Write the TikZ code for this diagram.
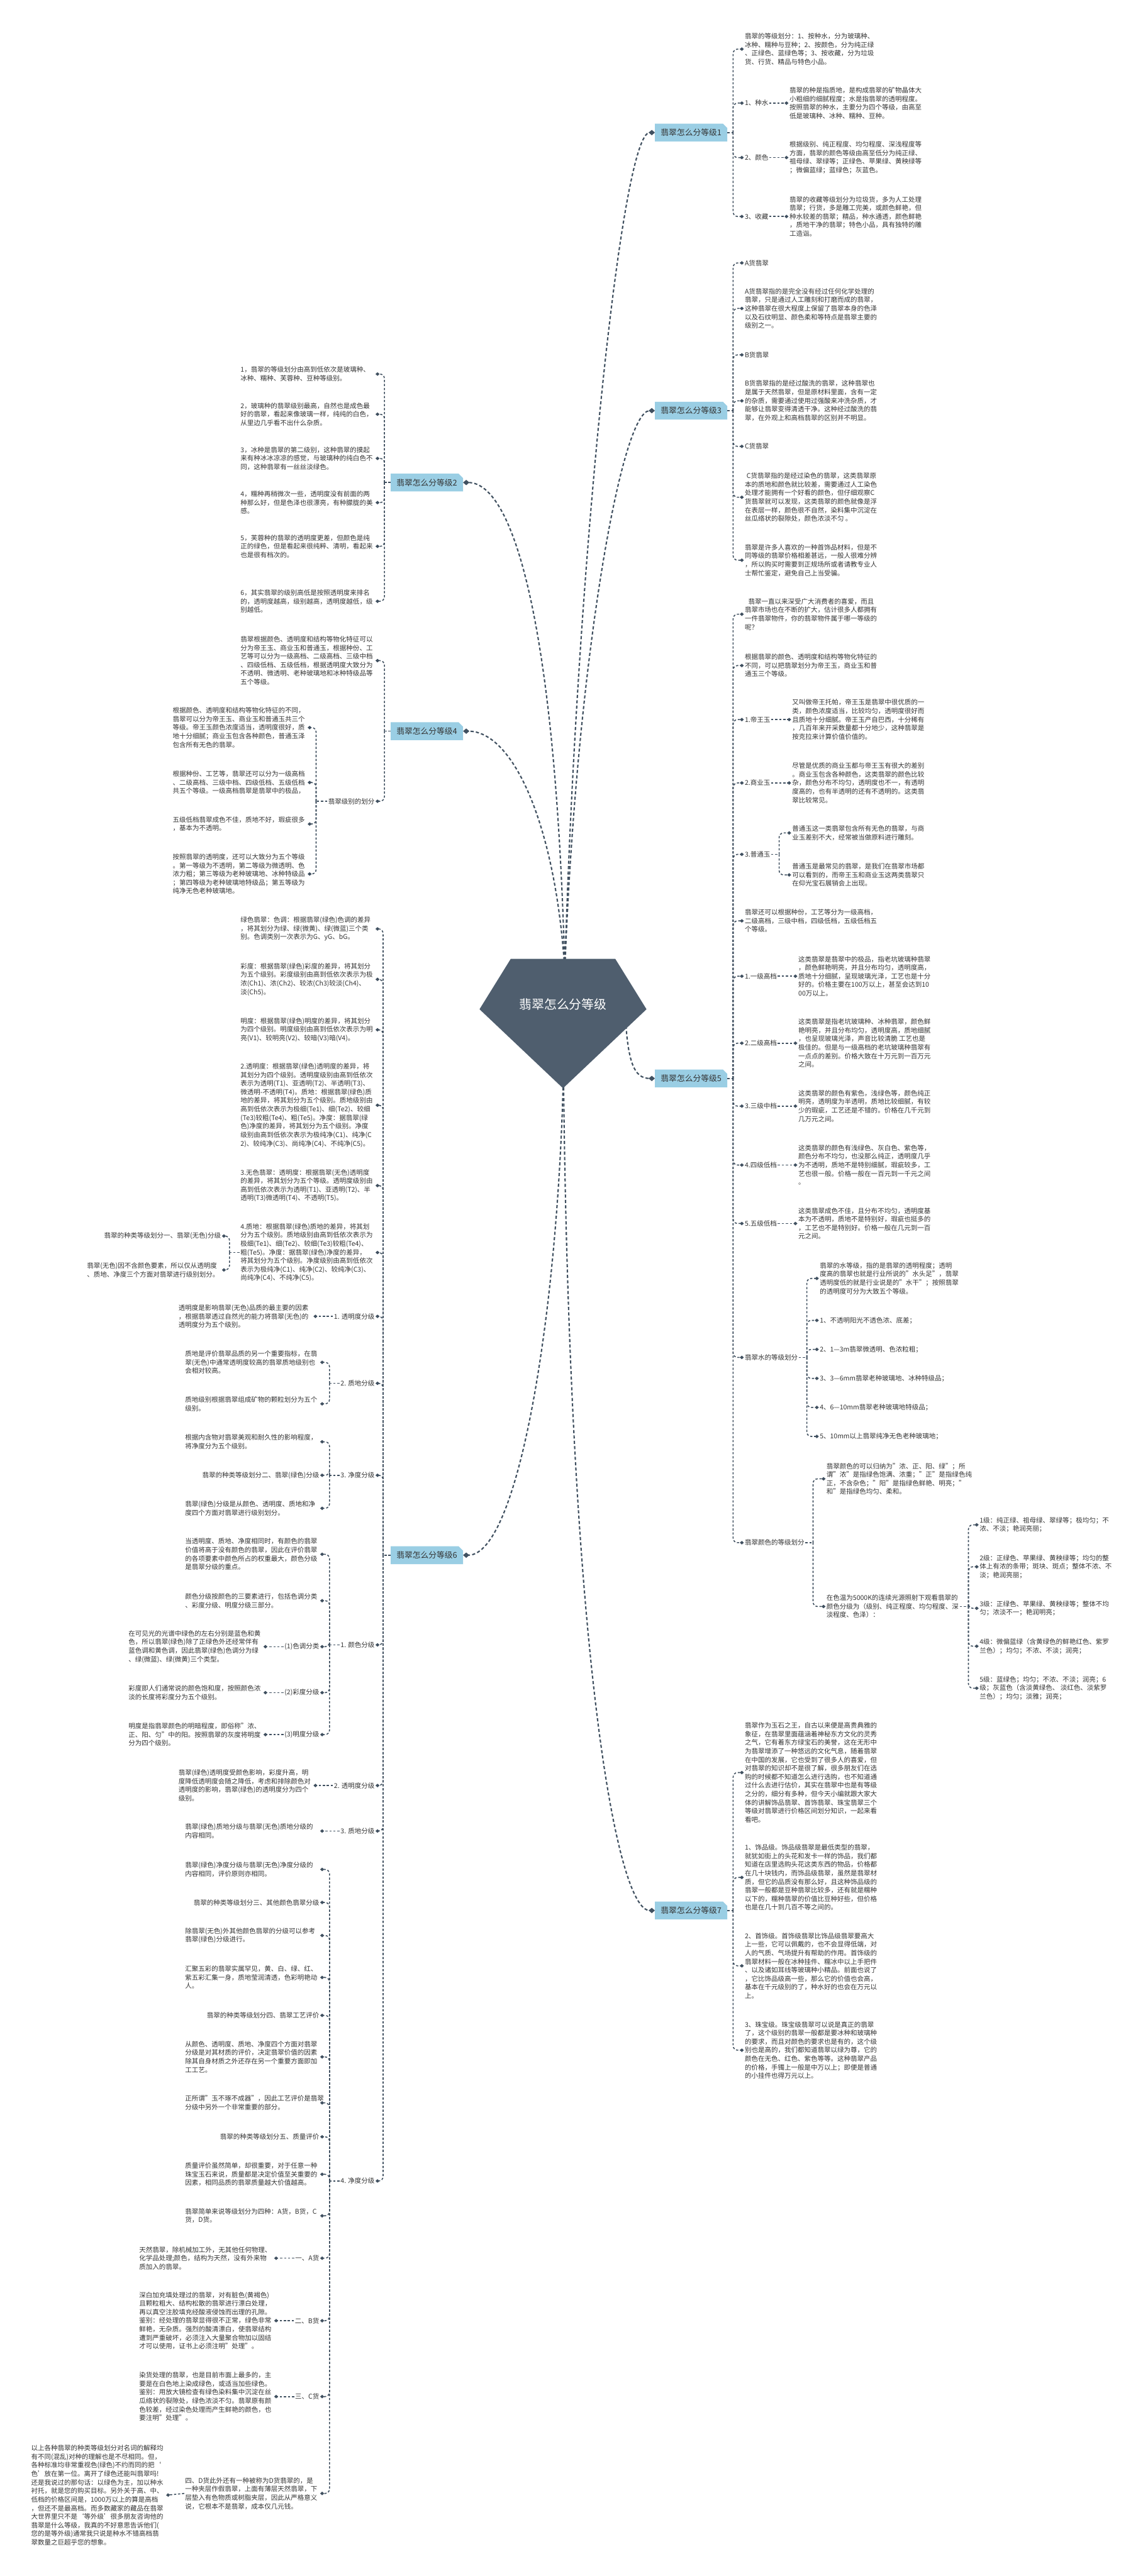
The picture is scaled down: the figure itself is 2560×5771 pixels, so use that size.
\documentclass[tikz,border=0pt]{standalone}
\usepackage{fontspec}
\setmainfont{Noto Sans CJK SC}
\usetikzlibrary{arrows.meta,shapes.misc}
\definecolor{rootcol}{RGB}{79,94,110}
\definecolor{labcol}{RGB}{154,206,228}
\definecolor{linecol}{RGB}{64,80,96}
\definecolor{txtcol}{RGB}{51,51,51}

\begin{document}
\begin{tikzpicture}[x=1pt, y=-1pt,
  leafr/.style={anchor=west, align=left, inner sep=2pt, text=txtcol, font=\fontsize{14.8}{19.2}\selectfont},
  leafl/.style={anchor=east, align=left, inner sep=2pt, text width=300pt, text=txtcol, font=\fontsize{14.8}{19.2}\selectfont},
  tagl/.style={anchor=east, align=right, inner sep=2pt, text=txtcol, font=\fontsize{14.8}{19.2}\selectfont},
  branch/.style={chamfered rectangle, chamfered rectangle corners=north east, chamfered rectangle xsep=5pt, chamfered rectangle ysep=5pt, fill=labcol, minimum width=161pt, minimum height=40pt, inner xsep=8pt, text=txtcol, font=\fontsize{18}{22}\selectfont},
  root/.style={text=white, font=\fontsize{28}{32}\selectfont},
  link/.style={draw=linecol, line width=2.2pt, dash pattern=on 5pt off 4pt, rounded corners=10pt, -{Diamond[length=9pt,width=8pt]}},
  stub/.style={draw=linecol, line width=2.2pt, dash pattern=on 5pt off 4pt},
  main/.style={draw=linecol, line width=3pt, dash pattern=on 7pt off 5pt, -{Diamond[length=14pt,width=12pt]}}]

\useasboundingbox [fill=white] (0,0) rectangle (2560,5771);

% main labels
\node (L1) at (1548,297) [branch] {翡翠怎么分等级1};
\node (L3) at (1548,920) [branch] {翡翠怎么分等级3};
\node (L5) at (1548,2416) [branch] {翡翠怎么分等级5};
\node (L7) at (1548,4280) [branch] {翡翠怎么分等级7};
\node (L2) at (956,1081) [branch] {翡翠怎么分等级2};
\node (L4) at (956,1638) [branch] {翡翠怎么分等级4};
\node (L6) at (956,3484) [branch] {翡翠怎么分等级6};

\coordinate (t1) at (1642,297);
\coordinate (t3) at (1642,920);
\coordinate (t5) at (1642,2416);
\coordinate (t7) at (1642,4280);
\coordinate (t2) at (861,1081);
\coordinate (t4) at (861,1638);
\coordinate (t6) at (858,3484);

% branch 1
\node (b1a) at (1666,110) [leafr] {翡翠的等级划分：1、按种水，分为玻璃种、\\冰种、糯种与豆种；2、按颜色，分为纯正绿\\、正绿色、蓝绿色等；3、按收藏，分为垃圾\\货、行货、精品与特色小品。};
\node (b1b) at (1666,231) [leafr] {1、种水};
\node (b1b1) at (1766,231) [leafr] {翡翠的种是指质地，是构成翡翠的矿物晶体大\\小粗细的细腻程度；水是指翡翠的透明程度。\\按照翡翠的种水，主要分为四个等级，由高至\\低是玻璃种、冰种、糯种、豆种。};
\node (b1c) at (1666,353) [leafr] {2、颜色};
\node (b1c1) at (1766,353) [leafr] {根据级别、纯正程度、均匀程度、深浅程度等\\方面，翡翠的颜色等级由高至低分为纯正绿、\\祖母绿、翠绿等；正绿色、苹果绿、黄秧绿等\\；微偏蓝绿；蓝绿色；灰蓝色。};
\node (b1d) at (1666,485) [leafr] {3、收藏};
\node (b1d1) at (1766,485) [leafr] {翡翠的收藏等级划分为垃圾货，多为人工处理\\翡翠；行货，多是雕工完美，或颜色鲜艳，但\\种水较差的翡翠；精品，种水通透，颜色鲜艳\\，质地干净的翡翠；特色小品，具有独特的雕\\工造诣。};

% branch 3
\node (b3a) at (1666,589) [leafr] {A货翡翠};
\node (b3b) at (1666,691) [leafr] {A货翡翠指的是完全没有经过任何化学处理的\\翡翠，只是通过人工雕刻和打磨而成的翡翠，\\这种翡翠在很大程度上保留了翡翠本身的色泽\\以及石纹明显、颜色柔和等特点是翡翠主要的\\级别之一。};
\node (b3c) at (1666,795) [leafr] {B货翡翠};
\node (b3d) at (1666,898) [leafr] {B货翡翠指的是经过酸洗的翡翠，这种翡翠也\\是属于天然翡翠，但是原材料里面，含有一定\\的杂质，需要通过使用过强酸来冲洗杂质，才\\能够让翡翠变得清透干净。这种经过酸洗的翡\\翠，在外观上和高档翡翠的区别并不明显。};
\node (b3e) at (1666,1000) [leafr] {C货翡翠};
\node (b3f) at (1666,1114) [leafr] {\hspace*{4pt}C货翡翠指的是经过染色的翡翠，这类翡翠原\\本的质地和颜色就比较差，需要通过人工染色\\处理才能拥有一个好看的颜色，但仔细观察C\\货翡翠就可以发现，这类翡翠的颜色就像是浮\\在表层一样，颜色很不自然，染料集中沉淀在\\丝瓜络状的裂隙处，颜色浓淡不匀 。};
\node (b3g) at (1666,1255) [leafr] {翡翠是许多人喜欢的一种首饰品材料，但是不\\同等级的翡翠价格相差甚远，一般人很难分辨\\，所以购买时需要到正规场所或者请教专业人\\士帮忙鉴定，避免自己上当受骗。};

% branch 5
\node (b5a) at (1666,1376) [leafr] {\hspace*{8pt}翡翠一直以来深受广大消费者的喜爱，而且\\翡翠市场也在不断的扩大，估计很多人都拥有\\一件翡翠物件，你的翡翠物件属于哪一等级的\\呢？};
\node (b5b) at (1666,1491) [leafr] {根据翡翠的颜色、透明度和结构等物化特征的\\不同，可以把翡翠划分为帝王玉，商业玉和普\\通玉三个等级。};
\node (b5c) at (1666,1612) [leafr] {1.帝王玉};
\node (b5c1) at (1772,1612) [leafr] {又叫做帝王托帕，帝王玉是翡翠中很优质的一\\类，颜色浓度适当，比较均匀，透明度很好而\\且质地十分细腻。帝王玉产自巴西，十分稀有\\，几百年来开采数量都十分地少，这种翡翠是\\按克拉来计算价值价值的。};
\node (b5d) at (1666,1754) [leafr] {2.商业玉};
\node (b5d1) at (1772,1754) [leafr] {尽管是优质的商业玉都与帝王玉有很大的差别\\。商业玉包含各种颜色，这类翡翠的颜色比较\\杂，颜色分布不均匀，透明度也不一，有透明\\度高的，也有半透明的还有不透明的。这类翡\\翠比较常见。};
\node (b5e) at (1666,1914) [leafr] {3.普通玉};
\node (b5e1) at (1772,1866) [leafr] {普通玉这一类翡翠包含所有无色的翡翠，与商\\业玉差别不大，经常被当做原料进行雕刻。};
\node (b5e2) at (1772,1960) [leafr] {普通玉是最常见的翡翠，是我们在翡翠市场都\\可以看到的，而帝王玉和商业玉这两类翡翠只\\在仰光宝石展销会上出现。};
\node (b5f) at (1666,2063) [leafr] {翡翠还可以根据种份，工艺等分为一级高档，\\二级高档，三级中档，四级低档，五级低档五\\个等级。};
\node (b5g) at (1666,2187) [leafr] {1.一级高档};
\node (b5g1) at (1786,2187) [leafr] {这类翡翠是翡翠中的极品，指老坑玻璃种翡翠\\，颜色鲜艳明亮，并且分布均匀，透明度高，\\质地十分细腻，呈现玻璃光泽，工艺也是十分\\好的。价格主要在100万以上，甚至会达到10\\00万以上。};
\node (b5h) at (1666,2337) [leafr] {2.二级高档};
\node (b5h1) at (1786,2337) [leafr] {这类翡翠是指老坑玻璃种、冰种翡翠，颜色鲜\\艳明亮，并且分布均匀，透明度高，质地细腻\\，也呈现玻璃光泽，声音比较清脆 工艺也是\\极佳的。但是与一级高档的老坑玻璃种翡翠有\\一点点的差别。价格大致在十万元到一百万元\\之间。};
\node (b5i) at (1666,2478) [leafr] {3.三级中档};
\node (b5i1) at (1786,2478) [leafr] {这类翡翠的颜色有紫色，浅绿色等，颜色纯正\\明亮，透明度为半透明，质地比较细腻，有较\\少的瑕疵，工艺还是不错的。价格在几千元到\\几万元之间。};
\node (b5j) at (1666,2610) [leafr] {4.四级低档};
\node (b5j1) at (1786,2610) [leafr] {这类翡翠的颜色有浅绿色、灰白色、紫色等，\\颜色分布不均匀，也没那么纯正，透明度几乎\\为不透明，质地不是特别细腻，瑕疵较多，工\\艺也很一般。价格一般在一百元到一千元之间\\。};
\node (b5k) at (1666,2741) [leafr] {5.五级低档};
\node (b5k1) at (1786,2741) [leafr] {这类翡翠成色不佳，且分布不均匀，透明度基\\本为不透明，质地不是特别好，瑕疵也挺多的\\，工艺也不是特别好。价格一般在几元到一百\\元之间。};
\node (b5l) at (1666,3041) [leafr] {翡翠水的等级划分};
\node (b5l1) at (1834,2864) [leafr] {翡翠的水等级，指的是翡翠的透明程度；透明\\度高的翡翠也就是行业所说的"水头足"，翡翠\\透明度低的就是行业说是的"水干"；按照翡翠\\的透明度可分为大致五个等级。};
\node (b5l2) at (1834,2958) [leafr] {1、不透明阳光不透色浓、底差；};
\node (b5l3) at (1834,3023) [leafr] {2、1—3m翡翠微透明、色浓粒粗；};
\node (b5l4) at (1834,3088) [leafr] {3、3—6mm翡翠老种玻璃地、冰种特级品；};
\node (b5l5) at (1834,3153) [leafr] {4、6—10mm翡翠老种玻璃地特级品；};
\node (b5l6) at (1834,3218) [leafr] {5、10mm以上翡翠纯净无色老种玻璃地；};
\node (b5m) at (1666,3456) [leafr] {翡翠颜色的等级划分};
\node (b5m1) at (1849,3313) [leafr] {翡翠颜色的可以归纳为"浓、正、阳、绿"；所\\谓"浓"是指绿色饱满、浓重；"正"是指绿色纯\\正，不含杂色；"阳"是指绿色鲜艳、明亮；"\\和"是指绿色均匀、柔和。};
\node (b5m2) at (1849,3599) [leafr] {在色温为5000K的连续光源照射下观看翡翠的\\颜色分级为（级别、纯正程度、均匀程度、深\\淡程度、色泽）：};
\node (b5n1) at (2192,3416) [leafr] {1级：纯正绿、祖母绿、翠绿等；极均匀；不\\浓、不淡；艳润亮丽；};
\node (b5n2) at (2192,3510) [leafr] {2级：正绿色、苹果绿、黄秧绿等；均匀的整\\体上有浓的条带；斑块、斑点；整体不浓、不\\淡；艳润亮丽；};
\node (b5n3) at (2192,3603) [leafr] {3级：正绿色、苹果绿、黄秧绿等；整体不均\\匀；浓淡不一；艳润明亮；};
\node (b5n4) at (2192,3688) [leafr] {4级：微偏蓝绿（含黄绿色的鲜艳红色、紫罗\\兰色）；均匀；不浓、不淡；润亮；};
\node (b5n5) at (2192,3782) [leafr] {5级：蓝绿色；均匀；不浓、不淡；润亮；6\\级；灰蓝色（含淡黄绿色、 淡红色、淡紫罗\\兰色）；均匀；淡雅；润亮；};

% branch 7
\node (b7a) at (1666,3971) [leafr] {翡翠作为玉石之王，自古以来便是高贵典雅的\\象征，在翡翠里面蕴涵着神秘东方文化的灵秀\\之气，它有着东方绿宝石的美誉，这在无形中\\为翡翠增添了一种悠远的文化气息，随着翡翠\\在中国的发展，它也受到了很多人的喜爱，但\\对翡翠的知识却不是很了解，很多朋友们在选\\购的时候都不知道怎么进行选购，也不知道通\\过什么去进行估价，其实在翡翠中也是有等级\\之分的，细分有多种，但今天小编就跟大家大\\体的讲解饰品翡翠、首饰翡翠、珠宝翡翠三个\\等级对翡翠进行价格区间划分知识，一起来看\\看吧。};
\node (b7b) at (1666,4206) [leafr] {1、饰品级。饰品级翡翠是最低类型的翡翠，\\就犹如街上的头花和发卡一样的饰品，我们都\\知道在店里选购头花这类东西的物品，价格都\\在几十块钱内，而饰品级翡翠，虽然是翡翠材\\质，但它的品质没有那么好，且这种饰品级的\\翡翠一般都是豆种翡翠比较多，还有就是糯种\\以下的，糯种翡翠的价值比豆种好些，但价格\\也是在几十到几百不等之间的。};
\node (b7c) at (1666,4404) [leafr] {2、首饰级。首饰级翡翠比饰品级翡翠要高大\\上一些，它可以佩戴的，也不会显得低端，对\\人的气质、气场提升有帮助的作用。首饰级的\\翡翠材料一般在冰种挂件、糯冰中以上手把件\\、以及诸如耳线等玻璃种小精品。前面也说了\\，它比饰品级高一些，那么它的价值也会高，\\基本在千元级别的了，种水好的也会在万元以\\上。};
\node (b7d) at (1666,4593) [leafr] {3、珠宝级。珠宝级翡翠可以说是真正的翡翠\\了，这个级别的翡翠一般都是要冰种和玻璃种\\的要求，而且对颜色的要求也是有的，这个级\\别也是高的，我们都知道翡翠以绿为尊，它的\\颜色在无色、红色、紫色等等。这种翡翠产品\\的价格，手镯上一般是中万以上；即便是普通\\的小挂件也得万元以上。};

% branch 2
\node (a2a) at (841,838) [leafl] {1，翡翠的等级划分由高到低依次是玻璃种、\\冰种、糯种、芙蓉种、豆种等级别。};
\node (a2b) at (841,928) [leafl] {2，玻璃种的翡翠级别最高，自然也是成色最\\好的翡翠，看起来像玻璃一样，纯纯的白色，\\从里边几乎看不出什么杂质。};
\node (a2c) at (841,1027) [leafl] {3，冰种是翡翠的第二级别，这种翡翠的摸起\\来有种冰冰凉凉的感觉，与玻璃种的纯白色不\\同，这种翡翠有一丝丝淡绿色。};
\node (a2d) at (841,1126) [leafl] {4，糯种再稍微次一些，透明度没有前面的两\\种那么好，但是色泽也很漂亮，有种朦胧的美\\感。};
\node (a2e) at (841,1224) [leafl] {5，芙蓉种的翡翠的透明度更差，但颜色是纯\\正的绿色，但是看起来很纯粹、清明，看起来\\也是很有档次的。};
\node (a2f) at (841,1347) [leafl] {6，其实翡翠的级别高低是按照透明度来排名\\的，透明度越高，级别越高，透明度越低，级\\别越低。};

% branch 4
\node (a4a) at (841,1480) [leafl] {翡翠根据颜色、透明度和结构等物化特征可以\\分为帝王玉、商业玉和普通玉，根据种份、工\\艺等可以分为一级高档、二级高档、三级中档\\、四级低档、五级低档，根据透明度大致分为\\不透明、微透明、老种玻璃地和冰种特级品等\\五个等级。};
\node (a4b) at (841,1795) [tagl] {翡翠级别的划分};
\node (a4b1) at (689,1630) [leafl] {根据颜色、透明度和结构等物化特征的不同，\\翡翠可以分为帝王玉、商业玉和普通玉共三个\\等级。帝王玉颜色浓度适当，透明度很好，质\\地十分细腻；商业玉包含各种颜色，普通玉泽\\包含所有无色的翡翠。};
\node (a4b2) at (689,1753) [leafl] {根据种份、工艺等，翡翠还可以分为一级高档\\、二级高档、三级中档、四级低档、五级低档\\共五个等级。一级高档翡翠是翡翠中的极品，};
\node (a4b3) at (689,1846) [leafl] {五级低档翡翠成色不佳，质地不好，瑕疵很多\\，基本为不透明。};
\node (a4b4) at (689,1958) [leafl] {按照翡翠的透明度，还可以大致分为五个等级\\。第一等级为不透明，第二等级为微透明、色\\浓力粗；第三等级为老种玻璃地、冰种特级品\\；第四等级为老种玻璃地特级品；第五等级为\\纯净无色老种玻璃地。};

% branch 6
\node (g1) at (841,2081) [leafl] {绿色翡翠：色调：根据翡翠(绿色)色调的差异\\，将其划分为绿、绿(微黄)、绿(微蓝)三个类\\别。色调类别一次表示为G、yG、bG。};
\node (g2) at (841,2194) [leafl] {彩度：根据翡翠(绿色)彩度的差异，将其划分\\为五个级别。彩度级别由高到低依次表示为极\\浓(Ch1)、浓(Ch2)、较浓(Ch3)较淡(Ch4)、\\淡(Ch5)。};
\node (g3) at (841,2307) [leafl] {明度：根据翡翠(绿色)明度的差异，将其划分\\为四个级别。明度级别由高到低依次表示为明\\亮(V1)、较明亮(V2)、较暗(V3)暗(V4)。};
\node (g4) at (841,2476) [leafl] {2.透明度：根据翡翠(绿色)透明度的差异，将\\其划分为四个级别。透明度级别由高到低依次\\表示为透明(T1)、亚透明(T2)、半透明(T3)、\\微透明-不透明(T4)。质地：根据翡翠(绿色)质\\地的差异，将其划分为五个级别。质地级别由\\高到低依次表示为极细(Te1)、细(Te2)、较细\\(Te3)较粗(Te4)、粗(Te5)。净度：据翡翠(绿\\色)净度的差异，将其划分为五个级别。净度\\级别由高到低依次表示为极纯净(C1)、纯净(C\\2)、较纯净(C3)、尚纯净(C4)、不纯净(C5)。};
\node (g5) at (841,2656) [leafl] {3.无色翡翠：透明度：根据翡翠(无色)透明度\\的差异，将其划分为五个等级。透明度级别由\\高到低依次表示为透明(T1)、亚透明(T2)、半\\透明(T3)微透明(T4)、不透明(T5)。};
\node (g6) at (841,2806) [leafl] {4.质地：根据翡翠(绿色)质地的差异，将其划\\分为五个级别。质地级别由高到低依次表示为\\极细(Te1)、细(Te2)、较细(Te3)较粗(Te4)、\\粗(Te5)。净度：据翡翠(绿色)净度的差异，\\将其划分为五个级别。净度级别由高到低依次\\表示为极纯净(C1)、纯净(C2)、较纯净(C3)、\\尚纯净(C4)、不纯净(C5)。};
\node (g6a) at (497,2769) [tagl] {翡翠的种类等级划分一、翡翠(无色)分级};
\node (g6b) at (497,2845) [leafl] {翡翠(无色)因不含颜色要素，所以仅从透明度\\、质地、净度三个方面对翡翠进行级别划分。};
\node (g7) at (841,2949) [tagl] {1. 透明度分级};
\node (g7a) at (702,2949) [leafl] {透明度是影响翡翠(无色)品质的最主要的因素\\，根据翡翠透过自然光的能力将翡翠(无色)的\\透明度分为五个级别。};
\node (g8) at (841,3099) [tagl] {2. 质地分级};
\node (g8a) at (717,3052) [leafl] {质地是评价翡翠品质的另一个重要指标，在翡\\翠(无色)中通常透明度较高的翡翠质地级别也\\会相对较高。};
\node (g8b) at (717,3145) [leafl] {质地级别根据翡翠组成矿物的颗粒划分为五个\\级别。};
\node (g9) at (841,3305) [tagl] {3. 净度分级};
\node (g9a) at (717,3230) [leafl] {根据内含物对翡翠美观和耐久性的影响程度，\\将净度分为五个级别。};
\node (g9b) at (717,3305) [tagl] {翡翠的种类等级划分二、翡翠(绿色)分级};
\node (g9c) at (717,3379) [leafl] {翡翠(绿色)分级是从颜色、透明度、质地和净\\度四个方面对翡翠进行级别划分。};
\node (g10) at (841,3685) [tagl] {1. 颜色分级};
\node (g10a) at (717,3482) [leafl] {当透明度、质地、净度相同时，有颜色的翡翠\\价值将高于没有颜色的翡翠，因此在评价翡翠\\的各项要素中颜色所占的权重最大，颜色分级\\是翡翠分级的重点。};
\node (g10b) at (717,3586) [leafl] {颜色分级按颜色的三要素进行，包括色调分类\\、彩度分级、明度分级三部分。};
\node (g10c) at (717,3689) [tagl] {(1)色调分类};
\node (g10c1) at (590,3689) [leafl] {在可见光的光谱中绿色的左右分别是蓝色和黄\\色，所以翡翠(绿色)除了正绿色外还经常伴有\\蓝色调和黄色调，因此翡翠(绿色)色调分为绿\\、绿(微蓝)、绿(微黄)三个类型。};
\node (g10d) at (717,3792) [tagl] {(2)彩度分级};
\node (g10d1) at (590,3792) [leafl] {彩度即人们通常说的颜色饱和度，按照颜色浓\\淡的长度将彩度分为五个级别。};
\node (g10e) at (717,3886) [tagl] {(3)明度分级};
\node (g10e1) at (590,3886) [leafl] {明度是指翡翠颜色的明暗程度，即俗称"浓、\\正、阳、匀"中的阳。按照翡翠的灰度将明度\\分为四个级别。};
\node (g11) at (841,4000) [tagl] {2. 透明度分级};
\node (g11a) at (702,4000) [leafl] {翡翠(绿色)透明度受颜色影响，彩度升高，明\\度降低透明度会随之降低，考虑和排除颜色对\\透明度的影响，翡翠(绿色)的透明度分为四个\\级别。};
\node (g12) at (841,4102) [tagl] {3. 质地分级};
\node (g12a) at (717,4102) [leafl] {翡翠(绿色)质地分级与翡翠(无色)质地分级的\\内容相同。};
\node (g13) at (841,4886) [tagl] {4. 净度分级};
\node (h1) at (717,4188) [leafl] {翡翠(绿色)净度分级与翡翠(无色)净度分级的\\内容相同，评价原则亦相同。};
\node (h2) at (717,4262) [tagl] {翡翠的种类等级划分三、其他颜色翡翠分级};
\node (h3) at (717,4336) [leafl] {除翡翠(无色)外其他颜色翡翠的分级可以参考\\翡翠(绿色)分级进行。};
\node (h4) at (717,4430) [leafl] {汇聚五彩的翡翠实属罕见，黄、白、绿、红、\\紫五彩汇集一身，质地莹润清透，色彩明艳动\\人。};
\node (h5) at (717,4515) [tagl] {翡翠的种类等级划分四、翡翠工艺评价};
\node (h6) at (717,4608) [leafl] {从颜色、透明度、质地、净度四个方面对翡翠\\分级是对其材质的评价，决定翡翠价值的因素\\除其自身材质之外还存在另一个重要方面即加\\工工艺。};
\node (h7) at (717,4711) [leafl] {正所谓"玉不琢不成器"，因此工艺评价是翡翠\\分级中另外一个非常重要的部分。};
\node (h8) at (717,4787) [tagl] {翡翠的种类等级划分五、质量评价};
\node (h9) at (717,4871) [leafl] {质量评价虽然简单，却很重要，对于任意一种\\珠宝玉石来说，质量都是决定价值至关重要的\\因素，相同品质的翡翠质量越大价值越高。};
\node (h10) at (717,4964) [leafl] {翡翠简单来说等级划分为四种：A货，B货，C\\货，D货。};
\node (h11) at (717,5059) [tagl] {一、A货};
\node (h11a) at (614,5059) [leafl] {天然翡翠，除机械加工外，无其他任何物理、\\化学品处理;颜色，结构为天然，没有外来物\\质加入的翡翠。};
\node (h12) at (717,5199) [tagl] {二、B货};
\node (h12a) at (614,5199) [leafl] {深白加充填处理过的翡翠，对有脏色(黄褐色)\\且颗粒粗大、结构松散的翡翠进行漂白处理，\\再以真空注胶填充经酸液侵蚀而出理的孔隙。\\鉴别：经处理的翡翠显得很不正常，绿色非常\\鲜艳，无杂质。强烈的酸清漂白，使翡翠结构\\遭到严重破坏，必须注入大量聚合物加以固结\\才可以使用，证书上必须注明"处理"。};
\node (h13) at (717,5369) [tagl] {三、C货};
\node (h13a) at (614,5369) [leafl] {染货处理的翡翠，也是目前市面上最多的，主\\要是在白色地上染成绿色，或适当加些绿色。\\鉴别：用放大镜检查有绿色染料集中沉淀在丝\\瓜络状的裂隙处，绿色浓淡不匀。翡翠原有颜\\色较差，经过染色处理而产生鲜艳的颜色，也\\要注明"处理"。};
\node (h14) at (717,5586) [leafl] {四、D货此外还有一种被称为D货翡翠的，是\\一种夹层作假翡翠，上面有薄层天然翡翠，下\\层垫入有色物质或树脂夹层，因此从严格意义\\说，它根本不是翡翠，成本仅几元钱。};
\node (h14a) at (372,5590) [leafl] {以上各种翡翠的种类等级划分对名词的解释均\\有不同(混乱)对种的理解也是不尽相同。但，\\各种标准均非常重视色(绿色)不约而同的把‘\\色’放在第一位。离开了绿色还能叫翡翠吗!\\还是我说过的那句话：以绿色为主，加以种水\\衬托，就是您的购买目标。另外关于高、中、\\低档的价格区间是，1000万以上的算是高档\\，但还不是最高档。而多数藏家的藏品在翡翠\\大世界里只不是‘等外级’很多朋友咨询他的\\翡翠是什么等级，我真的不好意思告诉他们(\\您的是等外级)通常我只说是种水不错高档翡\\翠数量之巨超乎您的想象。};

\coordinate (s5e) at (1745,1914);
\coordinate (s5l) at (1807,3041);
\coordinate (s5m) at (1821,3456);
\coordinate (s5n) at (2169,3599);
\coordinate (s4b) at (708,1795);
\coordinate (s6) at (514,2806);
\coordinate (s8) at (738,3099);
\coordinate (s9) at (738,3305);
\coordinate (s10) at (738,3685);
\coordinate (s13) at (738,4886);

% stubs
\draw [stub] (L1.east) -- (t1);
\draw [stub] (L3.east) -- (t3);
\draw [stub] (L5.east) -- (t5);
\draw [stub] (L7.east) -- (t7);
\draw [stub] (L2.west) -- (t2);
\draw [stub] (L4.west) -- (t4);
\draw [stub] (L6.west) -- (t6);
\draw [stub] (b5e.east) -- (s5e);
\draw [stub] (b5l.east) -- (s5l);
\draw [stub] (b5m.east) -- (s5m);
\draw [stub] (b5m2.east) -- (s5n);
\draw [stub] (a4b.west) -- (s4b);
\draw [stub] (g6.west) -- (s6);
\draw [stub] (g8.west) -- (s8);
\draw [stub] (g9.west) -- (s9);
\draw [stub] (g10.west) -- (s10);
\draw [stub] (g13.west) -- (s13);

% branch 1 links
\draw [link] (t1) |- (b1a.west);
\draw [link] (t1) |- (b1b.west);
\draw [link] (t1) |- (b1c.west);
\draw [link] (t1) |- (b1d.west);
\draw [link] (b1b.east) -- (b1b1.west);
\draw [link] (b1c.east) -- (b1c1.west);
\draw [link] (b1d.east) -- (b1d1.west);

% branch 3 links
\draw [link] (t3) |- (b3a.west);
\draw [link] (t3) |- (b3b.west);
\draw [link] (t3) |- (b3c.west);
\draw [link] (t3) |- (b3d.west);
\draw [link] (t3) |- (b3e.west);
\draw [link] (t3) |- (b3f.west);
\draw [link] (t3) |- (b3g.west);

% branch 5 links
\draw [link] (t5) |- (b5a.west);
\draw [link] (t5) |- (b5b.west);
\draw [link] (t5) |- (b5c.west);
\draw [link] (t5) |- (b5d.west);
\draw [link] (t5) |- (b5e.west);
\draw [link] (t5) |- (b5f.west);
\draw [link] (t5) |- (b5g.west);
\draw [link] (t5) |- (b5h.west);
\draw [link] (t5) |- (b5i.west);
\draw [link] (t5) |- (b5j.west);
\draw [link] (t5) |- (b5k.west);
\draw [link] (t5) |- (b5l.west);
\draw [link] (t5) |- (b5m.west);
\draw [link] (b5c.east) -- (b5c1.west);
\draw [link] (b5d.east) -- (b5d1.west);
\draw [link] (s5e) |- (b5e1.west);
\draw [link] (s5e) |- (b5e2.west);
\draw [link] (b5g.east) -- (b5g1.west);
\draw [link] (b5h.east) -- (b5h1.west);
\draw [link] (b5i.east) -- (b5i1.west);
\draw [link] (b5j.east) -- (b5j1.west);
\draw [link] (b5k.east) -- (b5k1.west);
\draw [link] (s5l) |- (b5l1.west);
\draw [link] (s5l) |- (b5l2.west);
\draw [link] (s5l) |- (b5l3.west);
\draw [link] (s5l) |- (b5l4.west);
\draw [link] (s5l) |- (b5l5.west);
\draw [link] (s5l) |- (b5l6.west);
\draw [link] (s5m) |- (b5m1.west);
\draw [link] (s5m) |- (b5m2.west);
\draw [link] (s5n) |- (b5n1.west);
\draw [link] (s5n) |- (b5n2.west);
\draw [link] (s5n) |- (b5n3.west);
\draw [link] (s5n) |- (b5n4.west);
\draw [link] (s5n) |- (b5n5.west);

% branch 7 links
\draw [link] (t7) |- (b7a.west);
\draw [link] (t7) |- (b7b.west);
\draw [link] (t7) |- (b7c.west);
\draw [link] (t7) |- (b7d.west);

% branch 2 links
\draw [link] (t2) |- (a2a.east);
\draw [link] (t2) |- (a2b.east);
\draw [link] (t2) |- (a2c.east);
\draw [link] (t2) |- (a2d.east);
\draw [link] (t2) |- (a2e.east);
\draw [link] (t2) |- (a2f.east);

% branch 4 links
\draw [link] (t4) |- (a4a.east);
\draw [link] (t4) |- (a4b.east);
\draw [link] (s4b) |- (a4b1.east);
\draw [link] (s4b) |- (a4b2.east);
\draw [link] (s4b) |- (a4b3.east);
\draw [link] (s4b) |- (a4b4.east);

% branch 6 links
\draw [link] (t6) |- (g1.east);
\draw [link] (t6) |- (g2.east);
\draw [link] (t6) |- (g3.east);
\draw [link] (t6) |- (g4.east);
\draw [link] (t6) |- (g5.east);
\draw [link] (t6) |- (g6.east);
\draw [link] (t6) |- (g7.east);
\draw [link] (t6) |- (g8.east);
\draw [link] (t6) |- (g9.east);
\draw [link] (t6) |- (g10.east);
\draw [link] (t6) |- (g11.east);
\draw [link] (t6) |- (g12.east);
\draw [link] (t6) |- (g13.east);
\draw [link] (s6) |- (g6a.east);
\draw [link] (s6) |- (g6b.east);
\draw [link] (g7.west) -- (g7a.east);
\draw [link] (s8) |- (g8a.east);
\draw [link] (s8) |- (g8b.east);
\draw [link] (s9) |- (g9a.east);
\draw [link] (s9) |- (g9b.east);
\draw [link] (s9) |- (g9c.east);
\draw [link] (s10) |- (g10a.east);
\draw [link] (s10) |- (g10b.east);
\draw [link] (s10) |- (g10c.east);
\draw [link] (s10) |- (g10d.east);
\draw [link] (s10) |- (g10e.east);
\draw [link] (g10c.west) -- (g10c1.east);
\draw [link] (g10d.west) -- (g10d1.east);
\draw [link] (g10e.west) -- (g10e1.east);
\draw [link] (g11.west) -- (g11a.east);
\draw [link] (g12.west) -- (g12a.east);
\draw [link] (s13) |- (h1.east);
\draw [link] (s13) |- (h2.east);
\draw [link] (s13) |- (h3.east);
\draw [link] (s13) |- (h4.east);
\draw [link] (s13) |- (h5.east);
\draw [link] (s13) |- (h6.east);
\draw [link] (s13) |- (h7.east);
\draw [link] (s13) |- (h8.east);
\draw [link] (s13) |- (h9.east);
\draw [link] (s13) |- (h10.east);
\draw [link] (s13) |- (h11.east);
\draw [link] (s13) |- (h12.east);
\draw [link] (s13) |- (h13.east);
\draw [link] (s13) |- (h14.east);
\draw [link] (h11.west) -- (h11a.east);
\draw [link] (h12.west) -- (h12a.east);
\draw [link] (h13.west) -- (h13a.east);
\draw [link] (h14.west) -- (h14a.east);

% root and main curves
\coordinate (Rtop) at (1265,2175);
\coordinate (Rright) at (1400,2262);
\coordinate (Rbot) at (1262,2400);
\draw [main] (Rtop) .. controls (1290,1300) and (1390,297) .. (L1.west);
\draw [main] (Rtop) .. controls (1290,1500) and (1390,920) .. (L3.west);
\draw [main] (Rright) .. controls (1405,2380) and (1420,2416) .. (L5.west);
\draw [main] (Rbot) .. controls (1275,3700) and (1380,4280) .. (L7.west);
\draw [main] (Rtop) .. controls (1245,1400) and (1150,1081) .. (L2.east);
\draw [main] (Rtop) .. controls (1245,1850) and (1150,1638) .. (L4.east);
\draw [main] (Rbot) .. controls (1250,2950) and (1160,3484) .. (L6.east);

\fill [rootcol] (1144,2148) -- (1378,2148) -- (1448,2261) -- (1261,2438) -- (1074,2261) -- cycle;
\node (R) at (1261,2250) [root] {翡翠怎么分等级};

\end{tikzpicture}
\end{document}
